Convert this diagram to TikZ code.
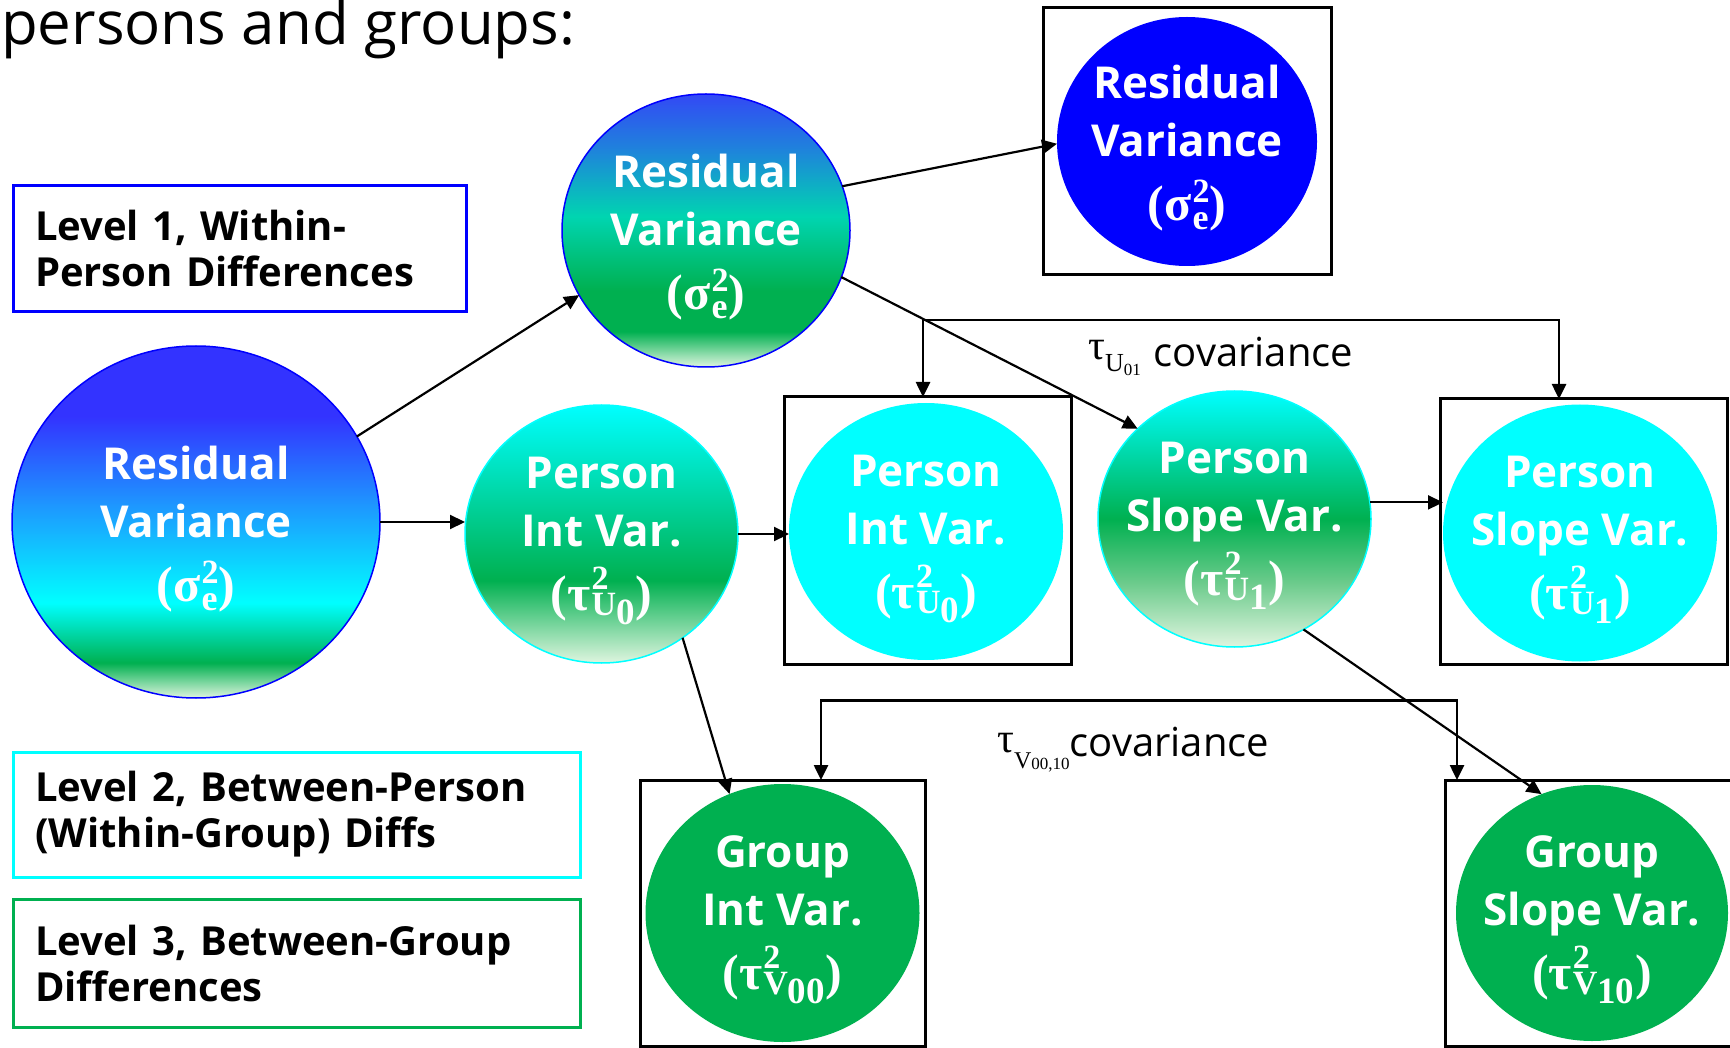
\documentclass[tikz,border=0pt]{standalone}
\usepackage{fontspec}
\setmainfont{Open Sans}
\newfontfamily\mserif{Liberation Serif}
\usetikzlibrary{shapes.geometric,arrows.meta}

% palette
\definecolor{lvblue}{HTML}{0000FF}
\definecolor{lvcyan}{HTML}{00FFFF}
\definecolor{lvgreen}{HTML}{00B050}
\definecolor{paleg}{HTML}{DFF5DF}
\definecolor{topblue}{HTML}{3333FF}
\definecolor{midblue}{HTML}{1E96FF}
\definecolor{upblue}{HTML}{3349F5}
\definecolor{upmid}{HTML}{1F82DC}
\definecolor{tealg}{HTML}{00D5B0}
\definecolor{slopemid}{HTML}{6CCB8C}

% vertical gradients (25bp = bottom of the shape, 75bp = top)
\pgfdeclareverticalshading{shadeLone}{100bp}{color(0bp)=(paleg); color(25bp)=(paleg); color(30bp)=(lvgreen); color(38.5bp)=(lvcyan); color(52.5bp)=(midblue); color(65bp)=(topblue); color(100bp)=(topblue)}
\pgfdeclareverticalshading{shadeLtwo}{100bp}{color(0bp)=(paleg); color(25bp)=(paleg); color(31.5bp)=(lvgreen); color(39bp)=(lvgreen); color(52.5bp)=(tealg); color(65bp)=(upmid); color(75bp)=(upblue); color(100bp)=(upblue)}
\pgfdeclareverticalshading{shadePint}{100bp}{color(0bp)=(paleg); color(25bp)=(paleg); color(41bp)=(lvgreen); color(75bp)=(lvcyan); color(100bp)=(lvcyan)}
\pgfdeclareverticalshading{shadePslope}{100bp}{color(0bp)=(paleg); color(25bp)=(paleg); color(37.5bp)=(slopemid); color(50bp)=(lvgreen); color(75bp)=(lvcyan); color(100bp)=(lvcyan)}

% variance symbols
\newcommand\scrsz[2][34]{{\fontsize{#1}{#1}\selectfont #2}}
\newcommand\sigE{{\mserif\bfseries\fontsize{50}{58}\selectfont(σ\kern1pt\rlap{\raisebox{18pt}{\scrsz{2}}}\raisebox{-9pt}{\scrsz[36]{e}}\kern1pt)}}
\newcommand\tauV[2]{{\mserif\bfseries\fontsize{50}{58}\selectfont(τ\kern1pt\rlap{\raisebox{21pt}{\scrsz{2}}}\raisebox{-5pt}{\scrsz{#1}}\raisebox{-14pt}{\scrsz[37]{#2}}\kern1pt)}}

\tikzset{
  varc/.style={ellipse, inner sep=0pt, outer sep=0pt},
  vlabel/.style={inner sep=0pt, text=white, align=center, yshift=-7pt,
    font=\bfseries\fontsize{44}{58}\selectfont},
  holder/.style={draw=black, line width=3pt, inner sep=0pt, outer sep=0pt},
  conn/.style={-{Triangle[length=15pt,width=14pt]}, line width=2.2pt, black},
  bracket/.style={{Triangle[length=15pt,width=14pt]}-{Triangle[length=15pt,width=14pt]}, line width=2.6pt, black},
  lvbox/.style={draw, line width=3pt, inner sep=0pt, align=left,
    font=\bfseries\fontsize{40}{46}\selectfont},
  covlabel/.style={inner sep=0pt, anchor=base west, font=\fontsize{40}{46}\selectfont},
}

\begin{document}
\begin{tikzpicture}[x=1pt,y=-1pt]
\useasboundingbox (0,0) rectangle (1730,1048);

% heading
\node[anchor=base west, inner sep=0pt, font=\fontsize{60}{72}\selectfont] (title) at (1,45) {persons and groups:};

% level legend
\node[lvbox, draw=lvblue, minimum width=453, minimum height=126, text width=409] (lvone) at (239.5,249) {Level 1, Within-\\Person Differences};
\node[lvbox, draw=lvcyan, minimum width=567, minimum height=125, text width=523] (lvtwo) at (296.5,814.5) {Level 2, Between-Person\\(Within-Group) Diffs};
\node[lvbox, draw=lvgreen, minimum width=567, minimum height=128, text width=523] (lvthree) at (296.5,963) {Level 3, Between-Group\\Differences};

% frames around the final-level nodes
\node[holder, minimum width=288, minimum height=267] (rvbox) at (1187,141.5) {};
\node[holder, minimum width=287, minimum height=267] (pintbox) at (927.5,530.5) {};
\node[holder, minimum width=287, minimum height=265] (pslopebox) at (1583.5,531.5) {};
\node[holder, minimum width=285, minimum height=266] (gintbox) at (782.5,913) {};
\node[holder, minimum width=294, minimum height=266] (gslopebox) at (1592,913) {};

% variance components
\node[varc, shade, shading=shadeLone, draw=lvblue, line width=1.5pt, minimum width=368, minimum height=352] (rvone) at (196,522) {};
\node[vlabel] (rvone-t) at (rvone.center) {Residual\\Variance\\[6pt]\sigE};

\node[varc, shade, shading=shadeLtwo, draw=lvblue, line width=1.5pt, minimum width=288, minimum height=273] (rvtwo) at (706,230.5) {};
\node[vlabel] (rvtwo-t) at (rvtwo.center) {Residual\\Variance\\[6pt]\sigE};

\node[varc, fill=lvblue, minimum width=260, minimum height=249] (rvthree) at (1187,141.5) {};
\node[vlabel] (rvthree-t) at (rvthree.center) {Residual\\Variance\\[6pt]\sigE};

\node[varc, shade, shading=shadePint, draw=lvcyan, line width=1.5pt, minimum width=273, minimum height=258] (pint) at (601.5,534) {};
\node[vlabel] (pint-t) at (pint.center) {Person\\Int Var.\\[6pt]\tauV{U}{0}};

\node[varc, fill=lvcyan, minimum width=274, minimum height=257] (pintC) at (926,531.5) {};
\node[vlabel] (pintC-t) at (pintC.center) {Person\\Int Var.\\[6pt]\tauV{U}{0}};

\node[varc, shade, shading=shadePslope, draw=lvcyan, line width=1.5pt, minimum width=273, minimum height=256] (pslope) at (1234.5,519) {};
\node[vlabel] (pslope-t) at (pslope.center) {Person\\Slope Var.\\[6pt]\tauV{U}{1}};

\node[varc, fill=lvcyan, minimum width=274, minimum height=257] (pslopeC) at (1580,533) {};
\node[vlabel] (pslopeC-t) at (pslopeC.center) {Person\\Slope Var.\\[6pt]\tauV{U}{1}};

\node[varc, fill=lvgreen, minimum width=274, minimum height=258] (gint) at (782.5,913) {};
\node[vlabel] (gint-t) at (gint.center) {Group\\Int Var.\\[6pt]\tauV{V}{00}};

\node[varc, fill=lvgreen, minimum width=272, minimum height=256] (gslope) at (1592,913) {};
\node[vlabel] (gslope-t) at (gslope.center) {Group\\Slope Var.\\[6pt]\tauV{V}{10}};

% partitioning arrows
\draw[conn] (rvone.28) -- (rvtwo.207);
\draw[conn] (rvone.east) -- (rvone.east -| pint.west);
\draw[conn] (rvtwo.18) -- (rvthree.181);
\draw[conn] (rvtwo.-19) -- (pslope.137);
\draw[conn] (pint.east) -- (pint.east -| pintC.west);
\draw[conn] (pint.-52) -- (gint.114);
\draw[conn] (pslope.7) -- (pslope.7 -| pslopeC.west);
\draw[conn] (pslope.-58) -- (gslope.113);

% covariance brackets
\coordinate (covUl) at (923,320);
\coordinate (covUr) at (1559,320);
\draw[bracket] (covUl |- pintbox.north) -- (covUl) -- (covUr) -- (covUr |- pslopebox.north);
\node[covlabel] (covU) at (1088,367) {{\mserif\raisebox{7pt}{\fontsize{42}{42}\selectfont τ}\raisebox{-5pt}{\fontsize{26}{26}\selectfont U}\raisebox{-9pt}{\fontsize{17}{17}\selectfont 01}}\hspace{13pt}covariance};

\coordinate (covVl) at (821,700.5);
\coordinate (covVr) at (1457,700.5);
\draw[bracket] (covVl |- gintbox.north) -- (covVl) -- (covVr) -- (covVr |- gslopebox.north);
\node[covlabel] (covV) at (997,756) {{\mserif\raisebox{4pt}{\fontsize{42}{42}\selectfont τ}\raisebox{-12pt}{\fontsize{24}{24}\selectfont V}\raisebox{-13pt}{\fontsize{17}{17}\selectfont 00,10}}covariance};
\end{tikzpicture}
\end{document}
